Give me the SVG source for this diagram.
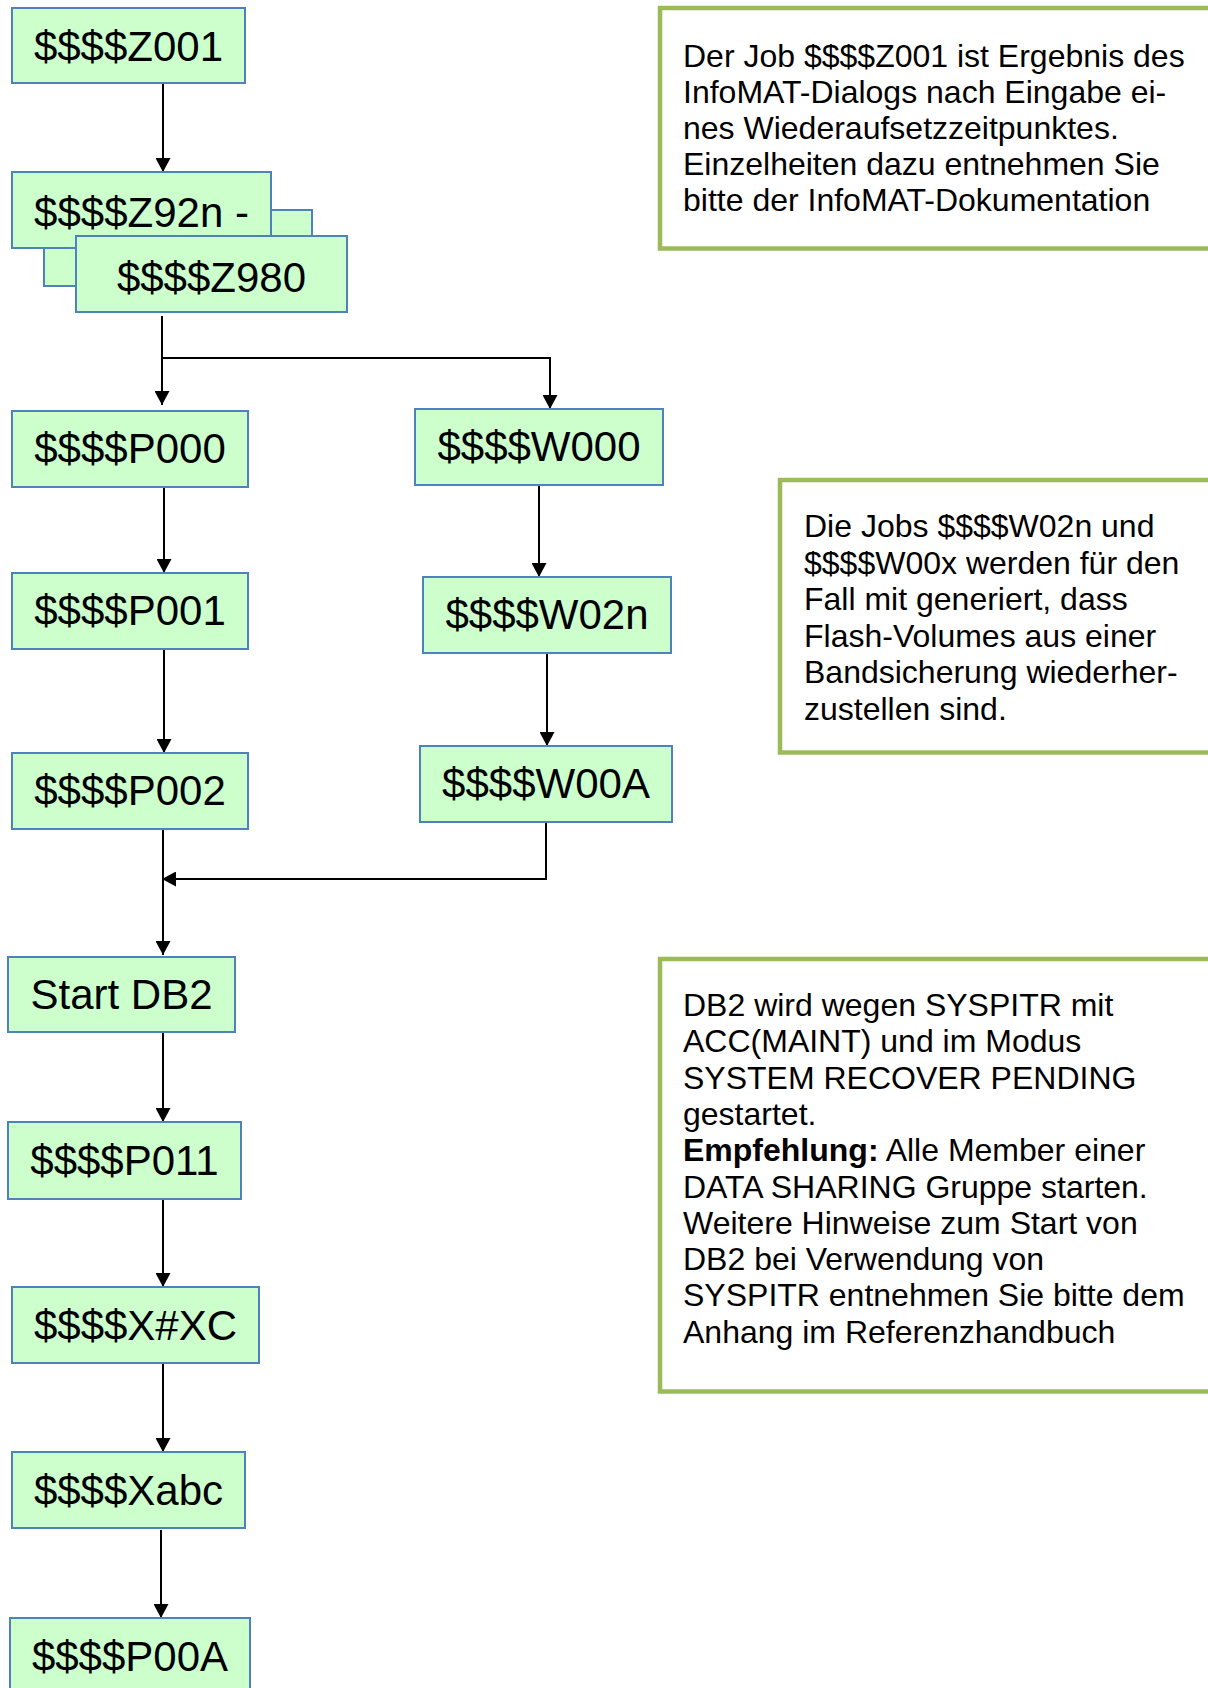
<svg xmlns="http://www.w3.org/2000/svg" width="1208" height="1688" viewBox="0 0 1208 1688">
<style>
.box{fill:#CCFFCC;stroke:#4F81BD;stroke-width:2}
.lbl{font-family:"Liberation Sans",Arial,sans-serif;font-size:42px;fill:#000;text-anchor:middle}
.note{fill:#fff;stroke:#9BBB59;stroke-width:4.5}
.nt{font-family:"Liberation Sans",Arial,sans-serif;font-size:32px;fill:#000}
.con{fill:none;stroke:#000;stroke-width:2}
</style>
<defs>
<marker id="arr" markerUnits="userSpaceOnUse" markerWidth="15" markerHeight="15" refX="14" refY="7.5" orient="auto">
<path d="M0,0 L14,7.5 L0,15 z" fill="#000"/>
</marker>
</defs>
<rect width="1208" height="1688" fill="#fff"/>

<g id="connectors">
<path class="con" d="M163,83 V172" marker-end="url(#arr)"/>
<path class="con" d="M162,316 V405" marker-end="url(#arr)"/>
<path class="con" d="M162,358 H550 V409" marker-end="url(#arr)"/>
<path class="con" d="M164,487 V573" marker-end="url(#arr)"/>
<path class="con" d="M539,485 V577" marker-end="url(#arr)"/>
<path class="con" d="M164,649 V753" marker-end="url(#arr)"/>
<path class="con" d="M547,653 V746" marker-end="url(#arr)"/>
<path class="con" d="M163,829 V955" marker-end="url(#arr)"/>
<path class="con" d="M546,822 V879 H162" marker-end="url(#arr)"/>
<path class="con" d="M163,1032 V1122" marker-end="url(#arr)"/>
<path class="con" d="M163,1199 V1287" marker-end="url(#arr)"/>
<path class="con" d="M163,1363 V1452" marker-end="url(#arr)"/>
<path class="con" d="M161,1530 V1618" marker-end="url(#arr)"/>
</g>

<g id="n-z001"><rect class="box" x="12" y="8" width="233" height="75"/><text class="lbl" x="128.5" y="61">$$$$Z001</text></g>
<g id="n-stack"><rect class="box" x="44" y="210" width="268" height="76"/></g>
<g id="n-z92n"><rect class="box" x="12" y="172" width="259" height="76"/><text class="lbl" x="141.5" y="227">$$$$Z92n -</text></g>
<g id="n-z980"><rect class="box" x="76" y="236" width="271" height="76"/><text class="lbl" x="211.5" y="292">$$$$Z980</text></g>

<g id="n-p000"><rect class="box" x="12" y="411" width="236" height="76"/><text class="lbl" x="130" y="463">$$$$P000</text></g>
<g id="n-w000"><rect class="box" x="415" y="409" width="248" height="76"/><text class="lbl" x="539" y="461">$$$$W000</text></g>
<g id="n-p001"><rect class="box" x="12" y="573" width="236" height="76"/><text class="lbl" x="130" y="625">$$$$P001</text></g>
<g id="n-w02n"><rect class="box" x="423" y="577" width="248" height="76"/><text class="lbl" x="547" y="629">$$$$W02n</text></g>
<g id="n-p002"><rect class="box" x="12" y="753" width="236" height="76"/><text class="lbl" x="130" y="805">$$$$P002</text></g>
<g id="n-w00a"><rect class="box" x="420" y="746" width="252" height="76"/><text class="lbl" x="546" y="798">$$$$W00A</text></g>
<g id="n-startdb2"><rect class="box" x="8" y="957" width="227" height="75"/><text class="lbl" x="121.5" y="1009">Start DB2</text></g>
<g id="n-p011"><rect class="box" x="8" y="1122" width="233" height="77"/><text class="lbl" x="124.5" y="1175">$$$$P011</text></g>
<g id="n-xxc"><rect class="box" x="12" y="1287" width="247" height="76"/><text class="lbl" x="135.5" y="1340">$$$$X#XC</text></g>
<g id="n-xabc"><rect class="box" x="12" y="1452" width="233" height="76"/><text class="lbl" x="128.5" y="1505">$$$$Xabc</text></g>
<g id="n-p00a"><rect class="box" x="10" y="1618" width="240" height="90"/><text class="lbl" x="130" y="1671">$$$$P00A</text></g>

<g id="note1">
<rect class="note" x="660" y="8" width="600" height="240.5"/>
<text class="nt">
<tspan x="683" y="67">Der Job $$$$Z001 ist Ergebnis des</tspan>
<tspan x="683" y="103">InfoMAT-Dialogs nach Eingabe ei-</tspan>
<tspan x="683" y="139">nes Wiederaufsetzzeitpunktes.</tspan>
<tspan x="683" y="175">Einzelheiten dazu entnehmen Sie</tspan>
<tspan x="683" y="211">bitte der InfoMAT-Dokumentation</tspan>
</text>
</g>

<g id="note2">
<rect class="note" x="780" y="480" width="480" height="272.5"/>
<text class="nt">
<tspan x="804" y="537">Die Jobs $$$$W02n und</tspan>
<tspan x="804" y="573.6">$$$$W00x werden für den</tspan>
<tspan x="804" y="610.2">Fall mit generiert, dass</tspan>
<tspan x="804" y="646.8">Flash-Volumes aus einer</tspan>
<tspan x="804" y="683.4">Bandsicherung wiederher-</tspan>
<tspan x="804" y="720">zustellen sind.</tspan>
</text>
</g>

<g id="note3">
<rect class="note" x="660" y="959" width="600" height="432.5"/>
<text class="nt">
<tspan x="683" y="1016">DB2 wird wegen SYSPITR mit</tspan>
<tspan x="683" y="1052.3">ACC(MAINT) und im Modus</tspan>
<tspan x="683" y="1088.6">SYSTEM RECOVER PENDING</tspan>
<tspan x="683" y="1124.9">gestartet.</tspan>
<tspan x="683" y="1161.2" font-weight="bold">Empfehlung:</tspan><tspan> Alle Member einer</tspan>
<tspan x="683" y="1197.5">DATA SHARING Gruppe starten.</tspan>
<tspan x="683" y="1233.8">Weitere Hinweise zum Start von</tspan>
<tspan x="683" y="1270.1">DB2 bei Verwendung von</tspan>
<tspan x="683" y="1306.4">SYSPITR entnehmen Sie bitte dem</tspan>
<tspan x="683" y="1342.7">Anhang im Referenzhandbuch</tspan>
</text>
</g>
</svg>
